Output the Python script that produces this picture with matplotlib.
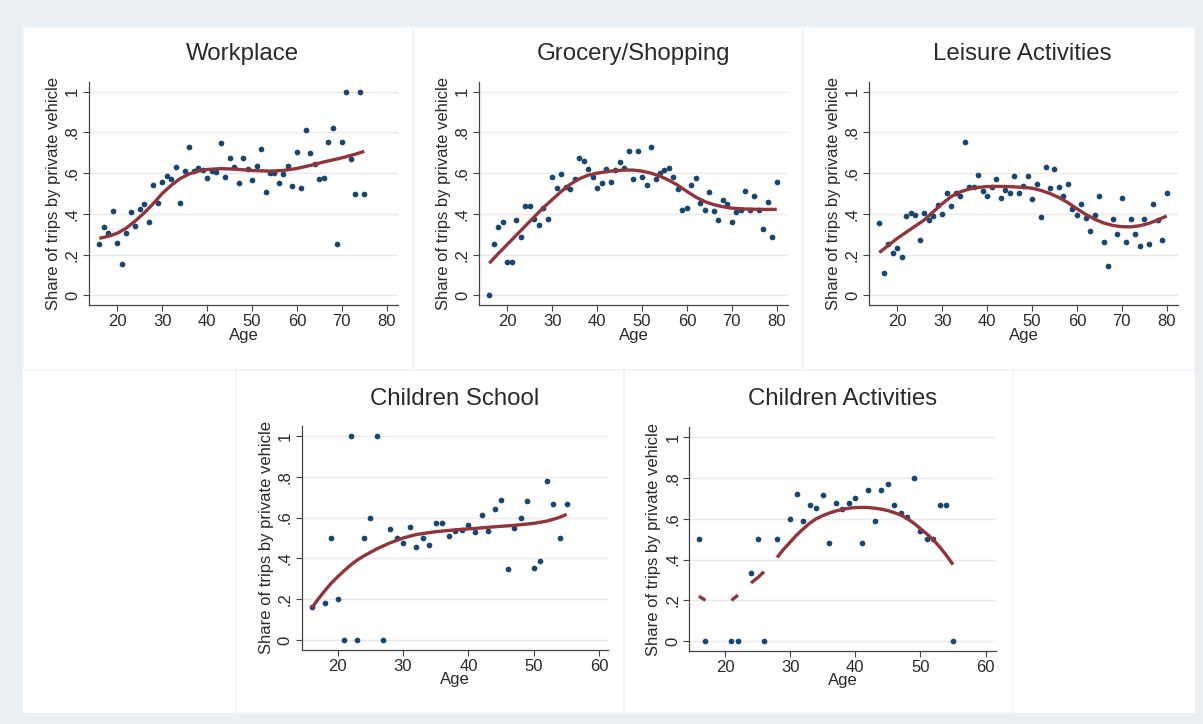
import matplotlib
matplotlib.use("Agg")
import matplotlib.pyplot as plt
import numpy as np
from matplotlib.patches import Rectangle

plt.rcParams['font.family'] = ['Liberation Sans', 'DejaVu Sans']

# ---------------- data ----------------
titles = ["Workplace", "Grocery/Shopping", "Leisure Activities",
          "Children School", "Children Activities"]
y_ticks = [0, 0.2, 0.4, 0.6, 0.8, 1.0]
y_ticklabels = ["0", ".2", ".4", ".6", ".8", "1"]
x_ticks_top = [20, 30, 40, 50, 60, 70, 80]
x_ticks_bottom = [20, 30, 40, 50, 60]

work_age = list(range(16, 76))
work_share = [0.25, 0.334, 0.308, 0.412, 0.259, 0.154, 0.306, 0.408, 0.342, 0.424,
              0.447, 0.36, 0.543, 0.455, 0.556, 0.586, 0.57, 0.628, 0.455, 0.61,
              0.727, 0.61, 0.627, 0.615, 0.578, 0.61, 0.606, 0.746, 0.579, 0.672,
              0.628, 0.551, 0.676, 0.62, 0.568, 0.637, 0.717, 0.509, 0.6, 0.6,
              0.55, 0.597, 0.635, 0.538, 0.704, 0.525, 0.813, 0.7, 0.643, 0.571,
              0.574, 0.751, 0.82, 0.25, 0.751, 1.0, 0.668, 0.5, 1.0, 0.5]
work_fit_age = [16, 18, 20, 22, 24, 26, 28, 30, 32, 34, 36, 38, 40, 43, 46, 50,
                54, 57, 60, 63, 66, 70, 73, 75]
work_fit = [0.28, 0.29, 0.305, 0.33, 0.365, 0.405, 0.45, 0.5, 0.54, 0.573, 0.596,
            0.61, 0.618, 0.622, 0.62, 0.613, 0.61, 0.613, 0.623, 0.638, 0.655,
            0.675, 0.693, 0.707]

groc_age = list(range(16, 81))
groc_share = [0.0, 0.252, 0.335, 0.358, 0.163, 0.163, 0.369, 0.284, 0.438, 0.438,
              0.373, 0.343, 0.43, 0.377, 0.58, 0.526, 0.595, 0.533, 0.521, 0.57,
              0.676, 0.66, 0.621, 0.583, 0.529, 0.551, 0.621, 0.557, 0.613, 0.655,
              0.623, 0.707, 0.572, 0.707, 0.582, 0.542, 0.727, 0.572, 0.6, 0.613,
              0.623, 0.583, 0.524, 0.42, 0.428, 0.542, 0.578, 0.451, 0.42, 0.507,
              0.413, 0.371, 0.467, 0.448, 0.361, 0.408, 0.42, 0.511, 0.42, 0.489,
              0.42, 0.324, 0.456, 0.288, 0.557]
groc_fit_age = [16, 18, 20, 22, 24, 26, 28, 30, 32, 34, 36, 38, 40, 43, 46, 48,
                50, 52, 54, 56, 58, 60, 62, 64, 66, 68, 70, 73, 76, 80]
groc_fit = [0.158, 0.205, 0.25, 0.295, 0.34, 0.385, 0.43, 0.47, 0.51, 0.545, 0.572,
            0.59, 0.6, 0.61, 0.615, 0.615, 0.61, 0.6, 0.585, 0.565, 0.54, 0.51,
            0.482, 0.46, 0.445, 0.435, 0.428, 0.424, 0.422, 0.422]

leis_age = list(range(16, 81))
leis_share = [0.355, 0.108, 0.252, 0.209, 0.232, 0.19, 0.389, 0.402, 0.395, 0.271,
              0.402, 0.369, 0.389, 0.443, 0.397, 0.502, 0.44, 0.502, 0.49, 0.752,
              0.531, 0.534, 0.59, 0.51, 0.489, 0.533, 0.572, 0.477, 0.515, 0.502,
              0.588, 0.502, 0.536, 0.588, 0.471, 0.549, 0.386, 0.632, 0.529, 0.621,
              0.534, 0.489, 0.547, 0.423, 0.395, 0.446, 0.382, 0.314, 0.395, 0.489,
              0.26, 0.144, 0.377, 0.302, 0.48, 0.26, 0.373, 0.302, 0.24, 0.377,
              0.252, 0.446, 0.37, 0.273, 0.502]
leis_fit_age = [16, 18, 20, 22, 24, 26, 28, 30, 32, 34, 36, 38, 40, 42, 45, 48,
                50, 52, 54, 56, 58, 60, 62, 64, 66, 68, 70, 72, 74, 76, 78, 80]
leis_fit = [0.21, 0.245, 0.28, 0.31, 0.34, 0.37, 0.41, 0.45, 0.485, 0.508, 0.522,
            0.53, 0.534, 0.535, 0.534, 0.53, 0.526, 0.515, 0.5, 0.48, 0.455, 0.425,
            0.397, 0.373, 0.355, 0.343, 0.337, 0.336, 0.342, 0.353, 0.37, 0.39]

sch_age = [16, 18, 19, 20, 21, 22, 23, 24, 25, 26, 27, 28, 29, 30, 31, 32, 33, 34,
           35, 36, 37, 38, 39, 40, 41, 42, 43, 44, 45, 46, 47, 48, 49, 50, 51, 52,
           53, 54, 55]
sch_share = [0.163, 0.183, 0.5, 0.2, 0.0, 1.0, 0.0, 0.5, 0.6, 1.0, 0.0, 0.546, 0.5,
             0.474, 0.556, 0.454, 0.5, 0.464, 0.572, 0.572, 0.511, 0.534, 0.537,
             0.562, 0.529, 0.613, 0.534, 0.644, 0.686, 0.348, 0.549, 0.6, 0.681,
             0.353, 0.386, 0.778, 0.667, 0.5, 0.667]
sch_fit_age = [16, 17, 18, 19, 20, 21, 22, 23, 24, 26, 28, 30, 32, 35, 38, 41, 44,
               47, 50, 52, 53, 54, 55]
sch_fit = [0.155, 0.2, 0.24, 0.278, 0.31, 0.34, 0.368, 0.392, 0.412, 0.447, 0.476,
           0.5, 0.517, 0.531, 0.54, 0.547, 0.555, 0.562, 0.572, 0.583, 0.592, 0.602,
           0.616]

act_age = [16, 17, 21, 22, 24, 25, 26, 28, 30, 31, 32, 33, 34, 35, 36, 37, 38, 39,
           40, 41, 42, 43, 44, 45, 46, 47, 48, 49, 50, 51, 52, 53, 54, 55]
act_share = [0.5, 0.0, 0.0, 0.0, 0.334, 0.5, 0.0, 0.5, 0.6, 0.722, 0.588, 0.668,
             0.651, 0.716, 0.483, 0.677, 0.65, 0.677, 0.702, 0.483, 0.74, 0.589,
             0.74, 0.773, 0.668, 0.627, 0.61, 0.8, 0.538, 0.5, 0.5, 0.668, 0.668,
             0.0]
# fit line has gaps where ages are missing (NaN breaks the line)
act_fit_age = [16, 17, np.nan, 21, 22, np.nan, 24, 25, 26, np.nan, 28, 29, 30, 31,
               32, 33, 34, 35, 36, 37, 38, 39, 40, 41, 42, 43, 44, 45, 46, 47, 48,
               49, 50, 51, 52, 53, 54, 55]
act_fit = [0.22, 0.2, np.nan, 0.2, 0.225, np.nan, 0.285, 0.31, 0.34, np.nan, 0.41,
           0.45, 0.485, 0.52, 0.55, 0.578, 0.6, 0.615, 0.628, 0.638, 0.646, 0.652,
           0.655, 0.656, 0.655, 0.652, 0.647, 0.64, 0.63, 0.618, 0.6, 0.578, 0.552,
           0.525, 0.496, 0.46, 0.42, 0.375]

# ---------------- styling ----------------
W, H = 1203, 724
BG = '#e9eff2'
NAVY = '#1a476f'
MAROON = '#90353b'
TXT = '#2a2a2a'
GRID = '#eaeaea'

fig = plt.figure(figsize=(W / 100, H / 100), dpi=100)
fig.patch.set_facecolor(BG)


def px_rect(x0, y0, x1, y1, **kw):
    r = Rectangle((x0 / W, 1 - y1 / H), (x1 - x0) / W, (y1 - y0) / H,
                  transform=fig.transFigure, **kw)
    fig.patches.append(r)


# white plot area and faint panel borders (behind the axes)
px_rect(23, 27, 1195, 713, facecolor='white', edgecolor='none', zorder=-2)
for (x0, y0, x1, y1) in [(23, 27, 413, 370), (413, 27, 803, 370), (803, 27, 1195, 370),
                         (236, 370, 624, 713), (624, 370, 1013, 713)]:
    px_rect(x0, y0, x1, y1, facecolor='none', edgecolor='#f1f4f6', lw=1.2, zorder=-1)


def make_axes(L, R, T, B):
    return fig.add_axes([L / W, 1 - B / H, (R - L) / W, (B - T) / H])


panels = [
    dict(L=89, R=398, T=81.7, B=305.1, xlim=(13.7, 82.5), xt=x_ticks_top,
         px=work_age, py=work_share, fx=work_fit_age, fy=work_fit, tpos=(242, 54)),
    dict(L=479, R=788, T=81.7, B=305.1, xlim=(13.7, 82.5), xt=x_ticks_top,
         px=groc_age, py=groc_share, fx=groc_fit_age, fy=groc_fit, tpos=(633, 54)),
    dict(L=869, R=1178, T=81.7, B=305.1, xlim=(13.7, 82.5), xt=x_ticks_top,
         px=leis_age, py=leis_share, fx=leis_fit_age, fy=leis_fit, tpos=(1022, 54)),
    dict(L=301.7, R=608.4, T=426, B=649.8, xlim=(14.5, 61.4), xt=x_ticks_bottom,
         px=sch_age, py=sch_share, fx=sch_fit_age, fy=sch_fit, tpos=(455, 399)),
    dict(L=689.3, R=996, T=427.3, B=650.8, xlim=(14.53, 61.6), xt=x_ticks_bottom,
         px=act_age, py=act_share, fx=act_fit_age, fy=act_fit, tpos=(843, 399)),
]

for p, ttl in zip(panels, titles):
    ax = make_axes(p['L'], p['R'], p['T'], p['B'])
    ax.set_facecolor('none')
    ax.set_xlim(*p['xlim'])
    ax.set_ylim(-0.048, 1.049)
    for yv in y_ticks:
        ax.axhline(yv, color=GRID, lw=1.0, zorder=0)
    ax.scatter(p['px'], p['py'], s=17, color=NAVY, zorder=3, linewidths=0)
    ax.plot(p['fx'], p['fy'], color=MAROON, lw=2.4, zorder=4,
            solid_capstyle='butt')
    ax.spines['top'].set_visible(False)
    ax.spines['right'].set_visible(False)
    for s in ('left', 'bottom'):
        ax.spines[s].set_color('#444444')
        ax.spines[s].set_linewidth(0.9)
    ax.set_xticks(p['xt'])
    ax.set_yticks(y_ticks)
    ax.set_yticklabels(y_ticklabels)
    ax.tick_params(axis='both', direction='out', length=4.5, width=0.8,
                   color='#444444', labelsize=12, labelcolor=TXT, pad=2)
    for lab in ax.get_yticklabels():
        lab.set_rotation(90)
        lab.set_va('center')
        lab.set_ha('right')
    ax.set_xlabel('Age', fontsize=12, color=TXT, labelpad=-1)
    ax.set_ylabel('Share of trips by private vehicle', fontsize=12, color=TXT,
                  labelpad=3)
    fig.text(p['tpos'][0] / W, 1 - p['tpos'][1] / H, ttl, ha='center', va='center',
             fontsize=17.3, color=TXT)

fig.savefig('out.png', dpi=100, facecolor=fig.get_facecolor())
